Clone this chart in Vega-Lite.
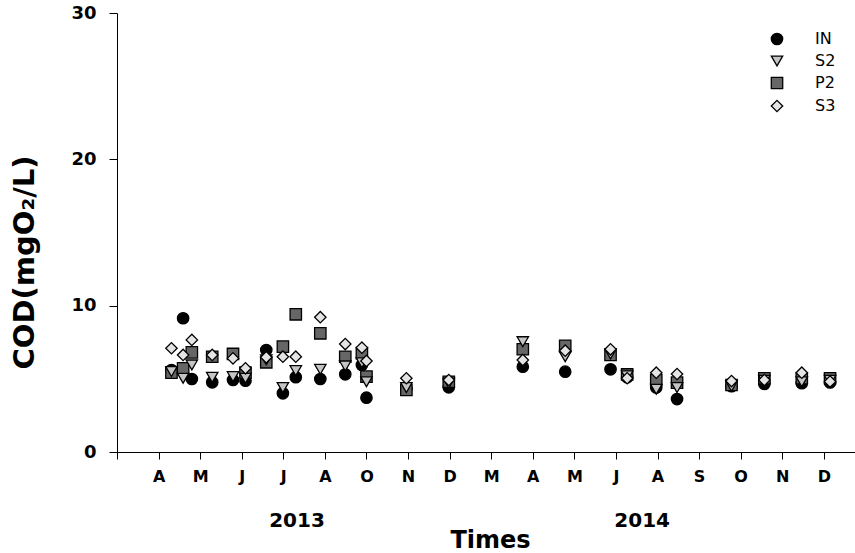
{
  "$schema": "https://vega.github.io/schema/vega-lite/v6.json",
  "width": 738,
  "height": 439,
  "autosize": {"type": "none"},
  "padding": {"left": 117, "top": 13, "right": 0, "bottom": 101},
  "config": {
    "view": {"stroke": null},
    "axis": {"grid": false, "domainColor": "black", "tickColor": "black", "labelColor": "black", "titleColor": "black"},
    "legend": {"symbolStrokeWidth": 1.3},
    "font": "DejaVu Sans"
  },
  "layer": [
    {
      "data": {
        "values": [
          {"t": 1.31, "site": "IN", "v": 5.6},
          {"t": 1.59, "site": "IN", "v": 9.14},
          {"t": 1.80, "site": "IN", "v": 4.99},
          {"t": 2.29, "site": "IN", "v": 4.76},
          {"t": 2.79, "site": "IN", "v": 4.92},
          {"t": 3.09, "site": "IN", "v": 4.87},
          {"t": 3.59, "site": "IN", "v": 6.97},
          {"t": 3.99, "site": "IN", "v": 4.01},
          {"t": 4.30, "site": "IN", "v": 5.11},
          {"t": 4.89, "site": "IN", "v": 4.99},
          {"t": 5.49, "site": "IN", "v": 5.31},
          {"t": 5.89, "site": "IN", "v": 5.95},
          {"t": 6.00, "site": "IN", "v": 3.71},
          {"t": 6.96, "site": "IN", "v": 4.3},
          {"t": 7.98, "site": "IN", "v": 4.42},
          {"t": 9.76, "site": "IN", "v": 5.83},
          {"t": 10.78, "site": "IN", "v": 5.49},
          {"t": 11.87, "site": "IN", "v": 5.65},
          {"t": 12.27, "site": "IN", "v": 5.1},
          {"t": 12.97, "site": "IN", "v": 4.4},
          {"t": 13.47, "site": "IN", "v": 3.62},
          {"t": 14.78, "site": "IN", "v": 4.5},
          {"t": 15.57, "site": "IN", "v": 4.65},
          {"t": 16.47, "site": "IN", "v": 4.7},
          {"t": 17.15, "site": "IN", "v": 4.75},
          {"t": 1.31, "site": "S2", "v": 5.5},
          {"t": 1.59, "site": "S2", "v": 5.04},
          {"t": 1.80, "site": "S2", "v": 5.95},
          {"t": 2.29, "site": "S2", "v": 5.1},
          {"t": 2.79, "site": "S2", "v": 5.15},
          {"t": 3.09, "site": "S2", "v": 5.04},
          {"t": 3.59, "site": "S2", "v": 6.3},
          {"t": 3.99, "site": "S2", "v": 4.4},
          {"t": 4.30, "site": "S2", "v": 5.56},
          {"t": 4.89, "site": "S2", "v": 5.65},
          {"t": 5.49, "site": "S2", "v": 5.88},
          {"t": 5.89, "site": "S2", "v": 6.1},
          {"t": 6.00, "site": "S2", "v": 4.8},
          {"t": 6.96, "site": "S2", "v": 4.4},
          {"t": 7.98, "site": "S2", "v": 4.7},
          {"t": 9.76, "site": "S2", "v": 7.54},
          {"t": 10.78, "site": "S2", "v": 6.51},
          {"t": 11.87, "site": "S2", "v": 6.7},
          {"t": 12.27, "site": "S2", "v": 5.2},
          {"t": 12.97, "site": "S2", "v": 4.29},
          {"t": 13.47, "site": "S2", "v": 4.4},
          {"t": 14.78, "site": "S2", "v": 4.5},
          {"t": 15.57, "site": "S2", "v": 4.9},
          {"t": 16.47, "site": "S2", "v": 4.8},
          {"t": 17.15, "site": "S2", "v": 4.9},
          {"t": 1.31, "site": "P2", "v": 5.42},
          {"t": 1.59, "site": "P2", "v": 5.72},
          {"t": 1.80, "site": "P2", "v": 6.81},
          {"t": 2.29, "site": "P2", "v": 6.51},
          {"t": 2.79, "site": "P2", "v": 6.7},
          {"t": 3.09, "site": "P2", "v": 5.42},
          {"t": 3.59, "site": "P2", "v": 6.13},
          {"t": 3.99, "site": "P2", "v": 7.2},
          {"t": 4.30, "site": "P2", "v": 9.41},
          {"t": 4.89, "site": "P2", "v": 8.11},
          {"t": 5.49, "site": "P2", "v": 6.51},
          {"t": 5.89, "site": "P2", "v": 6.75},
          {"t": 6.00, "site": "P2", "v": 5.15},
          {"t": 6.96, "site": "P2", "v": 4.24},
          {"t": 7.98, "site": "P2", "v": 4.8},
          {"t": 9.76, "site": "P2", "v": 7.02},
          {"t": 10.78, "site": "P2", "v": 7.25},
          {"t": 11.87, "site": "P2", "v": 6.63},
          {"t": 12.27, "site": "P2", "v": 5.3},
          {"t": 12.97, "site": "P2", "v": 4.92},
          {"t": 13.47, "site": "P2", "v": 4.74},
          {"t": 14.78, "site": "P2", "v": 4.58},
          {"t": 15.57, "site": "P2", "v": 5.04},
          {"t": 16.47, "site": "P2", "v": 5.04},
          {"t": 17.15, "site": "P2", "v": 5.04},
          {"t": 1.31, "site": "S3", "v": 7.09},
          {"t": 1.59, "site": "S3", "v": 6.63},
          {"t": 1.80, "site": "S3", "v": 7.66},
          {"t": 2.29, "site": "S3", "v": 6.63},
          {"t": 2.79, "site": "S3", "v": 6.4},
          {"t": 3.09, "site": "S3", "v": 5.72},
          {"t": 3.59, "site": "S3", "v": 6.47},
          {"t": 3.99, "site": "S3", "v": 6.51},
          {"t": 4.30, "site": "S3", "v": 6.51},
          {"t": 4.89, "site": "S3", "v": 9.21},
          {"t": 5.49, "site": "S3", "v": 7.38},
          {"t": 5.89, "site": "S3", "v": 7.13},
          {"t": 6.00, "site": "S3", "v": 6.22},
          {"t": 6.96, "site": "S3", "v": 5.04},
          {"t": 7.98, "site": "S3", "v": 4.92},
          {"t": 9.76, "site": "S3", "v": 6.29},
          {"t": 10.78, "site": "S3", "v": 6.92},
          {"t": 11.87, "site": "S3", "v": 7.02},
          {"t": 12.27, "site": "S3", "v": 5.04},
          {"t": 12.97, "site": "S3", "v": 5.42},
          {"t": 13.47, "site": "S3", "v": 5.33},
          {"t": 14.78, "site": "S3", "v": 4.85},
          {"t": 15.57, "site": "S3", "v": 4.92},
          {"t": 16.47, "site": "S3", "v": 5.42},
          {"t": 17.15, "site": "S3", "v": 4.81}
        ]
      },
      "mark": {"type": "point", "filled": true, "strokeWidth": 1.3, "strokeOpacity": 1, "fillOpacity": 1, "opacity": 1, "size": 130},
      "encoding": {
        "x": {
          "field": "t", "type": "quantitative",
          "scale": {"domain": [0, 17.75], "nice": false, "zero": false},
          "axis": {
            "values": [0,1,2,3,4,5,6,7,8,9,10,11,12,13,14,15,16,17],
            "labelExpr": "['','A','M','J','J','A','O','N','D','M','A','M','J','A','S','O','N','D'][datum.value]",
            "tickSize": 7,
            "labelPadding": 9,
            "labelFont": "DejaVu Sans", "labelFontWeight": "bold", "labelFontSize": 16,
            "labelBaseline": "top",
            "title": "Times",
            "titleFont": "DejaVu Sans", "titleFontWeight": "bold", "titleFontSize": 24,
            "titleBaseline": "alphabetic",
            "titleX": 373,
            "titleY": 95,
            "labelFlush": false,
            "labelOverlap": false
          }
        },
        "y": {
          "field": "v", "type": "quantitative",
          "scale": {"domain": [0, 30], "nice": false},
          "axis": {
            "values": [0, 10, 20, 30],
            "tickSize": 8,
            "labelPadding": 13,
            "labelFont": "DejaVu Sans", "labelFontWeight": "bold", "labelFontSize": 18,
            "title": "COD(mgO₂/L)",
            "titleFont": "DejaVu Sans", "titleFontWeight": "bold", "titleFontSize": 29,
            "titleAngle": 270,
            "titleAlign": "center",
            "titleBaseline": "middle",
            "titleX": -93,
            "titleY": 249,
            "labelFlush": false
          }
        },
        "shape": {
          "field": "site", "type": "nominal",
          "scale": {"domain": ["IN", "S2", "P2", "S3"], "range": ["circle", "triangle-down", "square", "diamond"]},
          "legend": {
            "title": null,
            "orient": "none",
            "legendX": 652,
            "legendY": 18,
            "padding": 0,
            "rowPadding": 5,
            "labelOffset": 30,
            "labelFont": "DejaVu Sans",
            "labelFontSize": 16,
            "labelColor": "black",
            "symbolSize": 130
          }
        },
        "fill": {
          "field": "site", "type": "nominal",
          "scale": {"domain": ["IN", "S2", "P2", "S3"], "range": ["#000000", "#c4c4c4", "#666666", "#e4e4e4"]},
          "legend": {
            "title": null,
            "orient": "none",
            "legendX": 652,
            "legendY": 18,
            "padding": 0,
            "rowPadding": 5,
            "labelOffset": 30,
            "labelFont": "DejaVu Sans",
            "labelFontSize": 16,
            "labelColor": "black",
            "symbolSize": 130
          }
        },
        "stroke": {
          "field": "site", "type": "nominal",
          "scale": {"domain": ["IN", "S2", "P2", "S3"], "range": ["#000000", "#000000", "#000000", "#000000"]},
          "legend": {
            "title": null,
            "orient": "none",
            "legendX": 652,
            "legendY": 18,
            "padding": 0,
            "rowPadding": 5,
            "labelOffset": 30,
            "labelFont": "DejaVu Sans",
            "labelFontSize": 16,
            "labelColor": "black",
            "symbolSize": 130
          }
        },
        "order": {"field": "site", "type": "nominal"}
      }
    },
    {
      "data": {"values": [{"pos": 4.33, "yy": -4.72, "year": "2013"}, {"pos": 12.63, "yy": -4.72, "year": "2014"}]},
      "mark": {"type": "text", "font": "DejaVu Sans", "fontWeight": "bold", "fontSize": 20, "baseline": "middle", "align": "center", "color": "black"},
      "encoding": {
        "x": {"field": "pos", "type": "quantitative"},
        "y": {"field": "yy", "type": "quantitative"},
        "text": {"field": "year"}
      }
    }
  ]
}
